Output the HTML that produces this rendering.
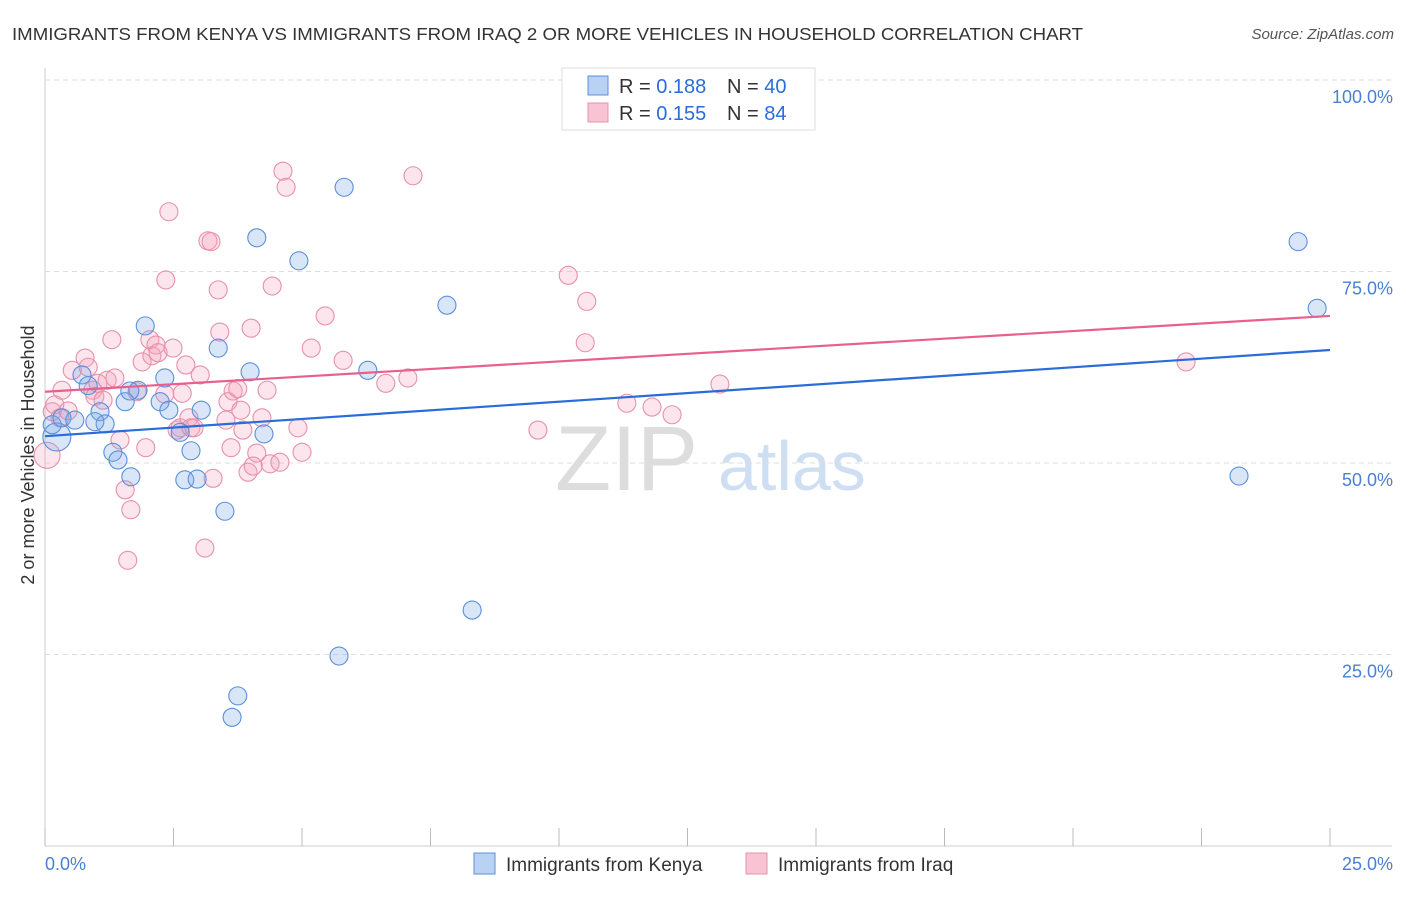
<!DOCTYPE html>
<html><head><meta charset="utf-8"><style>
body{margin:0;background:#fff;font-family:"Liberation Sans",sans-serif;}
svg text{font-family:"Liberation Sans",sans-serif;}
</style></head><body>
<svg id="c" width="1406" height="892">
<text x="12" y="40" font-size="17.5" fill="#333" textLength="1071" lengthAdjust="spacingAndGlyphs">IMMIGRANTS FROM KENYA VS IMMIGRANTS FROM IRAQ 2 OR MORE VEHICLES IN HOUSEHOLD CORRELATION CHART</text>
<text x="1394" y="39" font-size="15" fill="#555" font-style="italic" text-anchor="end">Source: ZipAtlas.com</text>
<text transform="translate(34,455) rotate(-90)" font-size="18" fill="#333" text-anchor="middle">2 or more Vehicles in Household</text>
<g><text x="555" y="490" font-size="92" fill="#ddd" font-family="Liberation Serif">ZIP</text><text x="718" y="490" font-size="70" fill="#cfdff3">atlas</text></g>
<g id="grid"></g><g id="marks"></g>
<g>
<rect x="562" y="68" width="253" height="62" fill="#fff" stroke="#ddd"/>
<rect x="588" y="76" width="20" height="19" fill="#b9d2f3" stroke="#5b8fdc"/>
<rect x="588" y="103" width="20" height="19" fill="#f8c3d3" stroke="#e890ab"/>
<text x="619" y="93" font-size="20" fill="#333">R = <tspan fill="#2a6dd9">0.188</tspan></text>
<text x="727" y="93" font-size="20" fill="#333">N = <tspan fill="#2a6dd9">40</tspan></text>
<text x="619" y="120" font-size="20" fill="#333">R = <tspan fill="#2a6dd9">0.155</tspan></text>
<text x="727" y="120" font-size="20" fill="#333">N = <tspan fill="#2a6dd9">84</tspan></text>
</g>
<g>
<rect x="474" y="853" width="21" height="21" fill="#b9d2f3" stroke="#5b8fdc"/>
<text x="506" y="871" font-size="19" fill="#333">Immigrants from Kenya</text>
<rect x="746" y="853" width="21" height="21" fill="#f8c3d3" stroke="#e890ab"/>
<text x="778" y="871" font-size="19" fill="#333">Immigrants from Iraq</text>
</g>
</svg>
<script>
const xTicks=[0,25];
const yTicks=[25,50,75,100];
const kenyaX=[0.23,0.14,0.33,0.58,1.07,1.17,0.97,0.72,0.84,1.32,1.42,1.56,1.67,1.81,1.95,2.24,2.33,2.41,2.63,2.72,2.84,2.96,3.04,3.37,3.50,3.75,3.64,3.99,4.12,4.26,4.94,5.72,5.82,6.28,7.82,8.31,23.23,24.38,24.75,1.65];
const kenyaY=[53.4,55.0,55.9,55.6,56.7,55.1,55.4,61.5,60.1,51.4,50.4,58.0,48.2,59.5,67.9,58.0,61.1,56.9,54.0,47.8,51.6,47.9,56.9,65.0,43.7,19.6,16.8,61.9,79.4,53.8,76.4,24.8,86.0,62.1,70.6,30.8,48.3,78.9,70.2,59.4];
const iraqX=[0.04,0.14,0.19,0.29,0.45,0.33,0.53,0.78,0.84,0.93,0.97,1.03,1.13,1.21,1.30,1.36,1.46,1.56,1.61,1.67,1.79,1.89,1.96,2.04,2.08,2.16,2.20,2.33,2.35,2.41,2.49,2.57,2.63,2.67,2.74,2.80,2.84,2.90,3.02,3.11,3.17,3.23,3.27,3.37,3.40,3.52,3.56,3.62,3.66,3.75,3.85,3.95,4.01,4.12,4.22,4.32,4.38,4.42,4.57,4.63,4.69,4.92,5.00,5.18,5.45,5.80,6.63,7.06,7.16,9.59,10.18,10.54,10.51,11.32,11.81,12.20,13.13,22.20,4.05,3.81];
const iraqY=[51.0,56.7,57.6,55.9,56.8,59.5,62.1,63.7,62.5,59.5,58.7,60.4,58.2,60.8,66.1,61.1,53.0,46.5,37.3,43.9,59.3,63.2,52.0,66.1,64.0,65.4,64.4,59.0,73.9,82.8,65.0,54.3,54.6,59.1,62.8,55.9,54.6,54.6,61.5,38.9,79.0,78.9,48.0,72.6,67.1,55.6,58.0,52.0,59.4,59.7,54.3,48.8,67.6,51.3,55.9,59.5,49.9,73.1,50.1,88.1,86.0,54.6,51.4,65.0,69.2,63.4,60.4,61.1,87.5,54.3,74.5,71.1,65.7,57.8,57.3,56.3,60.3,63.2,49.6,56.9];
const kenyaTrend=[53.5,64.75];
const iraqTrend=[59.3,69.2];
const NS='http://www.w3.org/2000/svg';
const sx=v=>45+v/25*1285, sy=v=>846-v/100*766;
function mk(t,a,p){const e=document.createElementNS(NS,t);for(const k in a)e.setAttribute(k,a[k]);p.appendChild(e);return e;}
const g=document.getElementById('grid'),m=document.getElementById('marks');
const ax=mk('line',{x1:45,y1:68,x2:45,y2:846,stroke:'#ccc'},g);


const bx=mk('line',{x1:45,y1:846,x2:1392,y2:846,stroke:'#ccc'},g);


yTicks.forEach(v=>{
 const l=mk('line',{x1:45,y1:sy(v),x2:1392,y2:sy(v),stroke:'#ddd','stroke-dasharray':'5,4'},g);
 
 
 const t=mk('text',{x:1393,y:sy(v)+23,'font-size':18,fill:'#4a7fd4','text-anchor':'end'},g);t.textContent=v.toFixed(1)+'%';
 
 
});
for(let i=0;i<=10;i++){const x=sx(i*2.5);const l=mk('line',{x1:x,y1:828,x2:x,y2:846,stroke:'#bbb'},g);
 
 }
xTicks.forEach((v,i)=>{const t=mk('text',{x:i?1393:45,y:870,'font-size':18,fill:'#4a7fd4','text-anchor':i?'end':'start'},g);t.textContent=v.toFixed(1)+'%';
 
 });
function pts(X,Y,fill,stroke,name){X.forEach((x,i)=>{const r=(i===0)?(name==='kenya-point'?14:13):9;
 const c=mk('circle',{cx:sx(x),cy:sy(Y[i]),r:r,fill:fill,stroke:stroke,'stroke-width':1.1},m);
 
 });}
pts(iraqX,iraqY,'rgba(244,160,188,0.28)','#e890ab','iraq-point');
pts(kenyaX,kenyaY,'rgba(120,165,230,0.28)','#5b8fdc','kenya-point');
const tb=mk('line',{x1:sx(0),y1:sy(kenyaTrend[0]),x2:sx(25),y2:sy(kenyaTrend[1]),stroke:'#2a6dd9','stroke-width':2.2},m);


const tp=mk('line',{x1:sx(0),y1:sy(iraqTrend[0]),x2:sx(25),y2:sy(iraqTrend[1]),stroke:'#e8608e','stroke-width':2.2},m);


</script>
</body></html>
